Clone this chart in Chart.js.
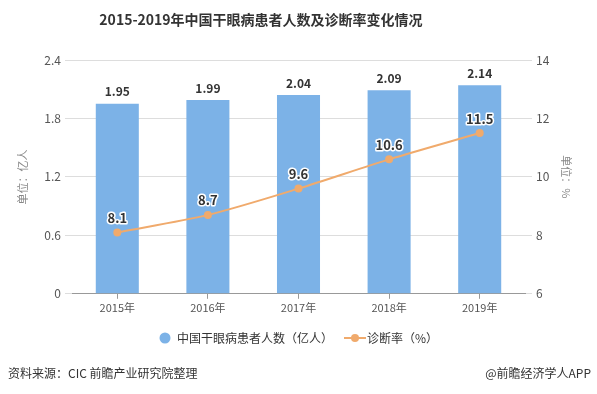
<!DOCTYPE html>
<html><head><meta charset="utf-8">
<script src="https://cdn.jsdelivr.net/npm/chart.js@4/dist/chart.umd.min.js"></script>
<style>
html,body{margin:0;padding:0;background:#fff;}
#wrap{position:relative;width:597px;height:394px;overflow:hidden;font-family:"Noto Sans CJK SC","Noto Sans",sans-serif;}
#title{position:absolute;left:0;top:9px;width:522px;text-align:center;font-size:14px;font-weight:bold;color:#333;}
#src{position:absolute;left:8px;top:364px;font-size:12px;color:#333;}
#app{position:absolute;right:6px;top:364px;font-size:12px;color:#333;}
canvas{position:absolute;left:0;top:0;}
</style></head>
<body><div id="wrap">
<canvas id="c" width="597" height="394"></canvas>
<div id="title">2015-2019年中国干眼病患者人数及诊断率变化情况</div>
<div id="src">资料来源：CIC 前瞻产业研究院整理</div>
<div id="app">@前瞻经济学人APP</div>
</div>
<script>
const categories = ['2015年','2016年','2017年','2018年','2019年'];
const patients = [1.95, 1.99, 2.04, 2.09, 2.14];
const diagnosisRate = [8.1, 8.7, 9.6, 10.6, 11.5];
const leftTicks = [0, 0.6, 1.2, 1.8, 2.4];
const rightTicks = [6, 8, 10, 12, 14];
const seriesNames = ['中国干眼病患者人数（亿人）', '诊断率（%）'];

const FONT = '"Noto Sans CJK SC","Noto Sans",sans-serif';
const BAR = '#7cb2e7';
const LINE = '#f0aa6c';

const lm = document.createElement('canvas');
lm.width = 22; lm.height = 10;
(function(){const g=lm.getContext('2d');g.strokeStyle=LINE;g.lineWidth=2;g.beginPath();g.moveTo(0,5);g.lineTo(22,5);g.stroke();g.fillStyle=LINE;g.beginPath();g.arc(11,5,4,0,Math.PI*2);g.fill();})();
const bm = document.createElement('canvas');
bm.width = 12; bm.height = 12;
(function(){const g=bm.getContext('2d');g.fillStyle=BAR;g.beginPath();g.arc(6,6,5.5,0,Math.PI*2);g.fill();})();

const labelPlugin = {
  id:'labels',
  afterDatasetsDraw(chart){
    const ctx = chart.ctx;
    ctx.save();
    ctx.textAlign='center';
    ctx.textBaseline='bottom';
    chart.getDatasetMeta(0).data.forEach((el,i)=>{
      ctx.font='bold 12px '+FONT;
      ctx.fillStyle='#333';
      ctx.fillText(patients[i].toFixed(2), el.x, el.y-6);
    });
    chart.getDatasetMeta(1).data.forEach((el,i)=>{
      ctx.font='bold 13px '+FONT;
      ctx.lineWidth=3;
      ctx.strokeStyle='#fff';
      ctx.lineJoin='round';
      const t=diagnosisRate[i].toFixed(1);
      ctx.strokeText(t, el.x, el.y-8);
      ctx.fillStyle='#333';
      ctx.fillText(t, el.x, el.y-8);
    });
    ctx.restore();
  }
};

new Chart(document.getElementById('c'), {
  data:{
    labels: categories,
    datasets:[
      {type:'bar', label:seriesNames[0], data:patients, backgroundColor:BAR, yAxisID:'y', barPercentage:0.95, categoryPercentage:0.5, order:2},
      {type:'line', label:seriesNames[1], data:diagnosisRate, yAxisID:'y1', borderColor:LINE, backgroundColor:LINE, borderWidth:2, tension:0.3, pointRadius:4, pointBackgroundColor:LINE, pointBorderWidth:0, order:1}
    ]
  },
  options:{
    responsive:false, animation:false,
    layout:{padding:{top:60,bottom:40,left:0,right:0}},
    plugins:{
      title:{display:false},
      tooltip:{enabled:false},
      legend:{
        position:'bottom',
        labels:{
          font:{family:FONT,size:12}, color:'#333', usePointStyle:true, boxWidth:12, boxHeight:12, padding:16,
          generateLabels(chart){
            return chart.data.datasets.map((d,i)=>({text:d.label, pointStyle: i===0?bm:lm, datasetIndex:i, fontColor:'#333', lineWidth:0, strokeStyle:'transparent', fillStyle:'transparent'}));
          }
        }
      }
    },
    scales:{
      x:{
        grid:{display:true, drawOnChartArea:false, offset:false, tickLength:5, color:'#999'},
        border:{color:'#999'},
        ticks:{font:{family:FONT,size:11}, color:'#555', padding:2}
      },
      y:{
        position:'left', min:0, max:2.4,
        afterBuildTicks(s){ s.ticks = leftTicks.map(v=>({value:v})); },
        afterFit(s){ s.width = 72; },
        grid:{color:'#ddd', tickLength:7},
        border:{display:false},
        ticks:{font:{family:FONT,size:12}, color:'#555', padding:4},
        title:{display:true, text:'单位：亿人', font:{family:FONT,size:11}, color:'#888', padding:{top:16,bottom:0}}
      },
      y1:{
        position:'right', min:6, max:14,
        afterBuildTicks(s){ s.ticks = rightTicks.map(v=>({value:v})); },
        afterFit(s){ s.width = 72; },
        grid:{drawOnChartArea:false, color:'#ddd', tickLength:7},
        border:{display:false},
        ticks:{font:{family:FONT,size:12}, color:'#555', padding:4},
        title:{display:true, text:'单位：%', font:{family:FONT,size:11}, color:'#888', padding:{top:24,bottom:0}}
      }
    }
  },
  plugins:[labelPlugin]
});
</script>
</body></html>
